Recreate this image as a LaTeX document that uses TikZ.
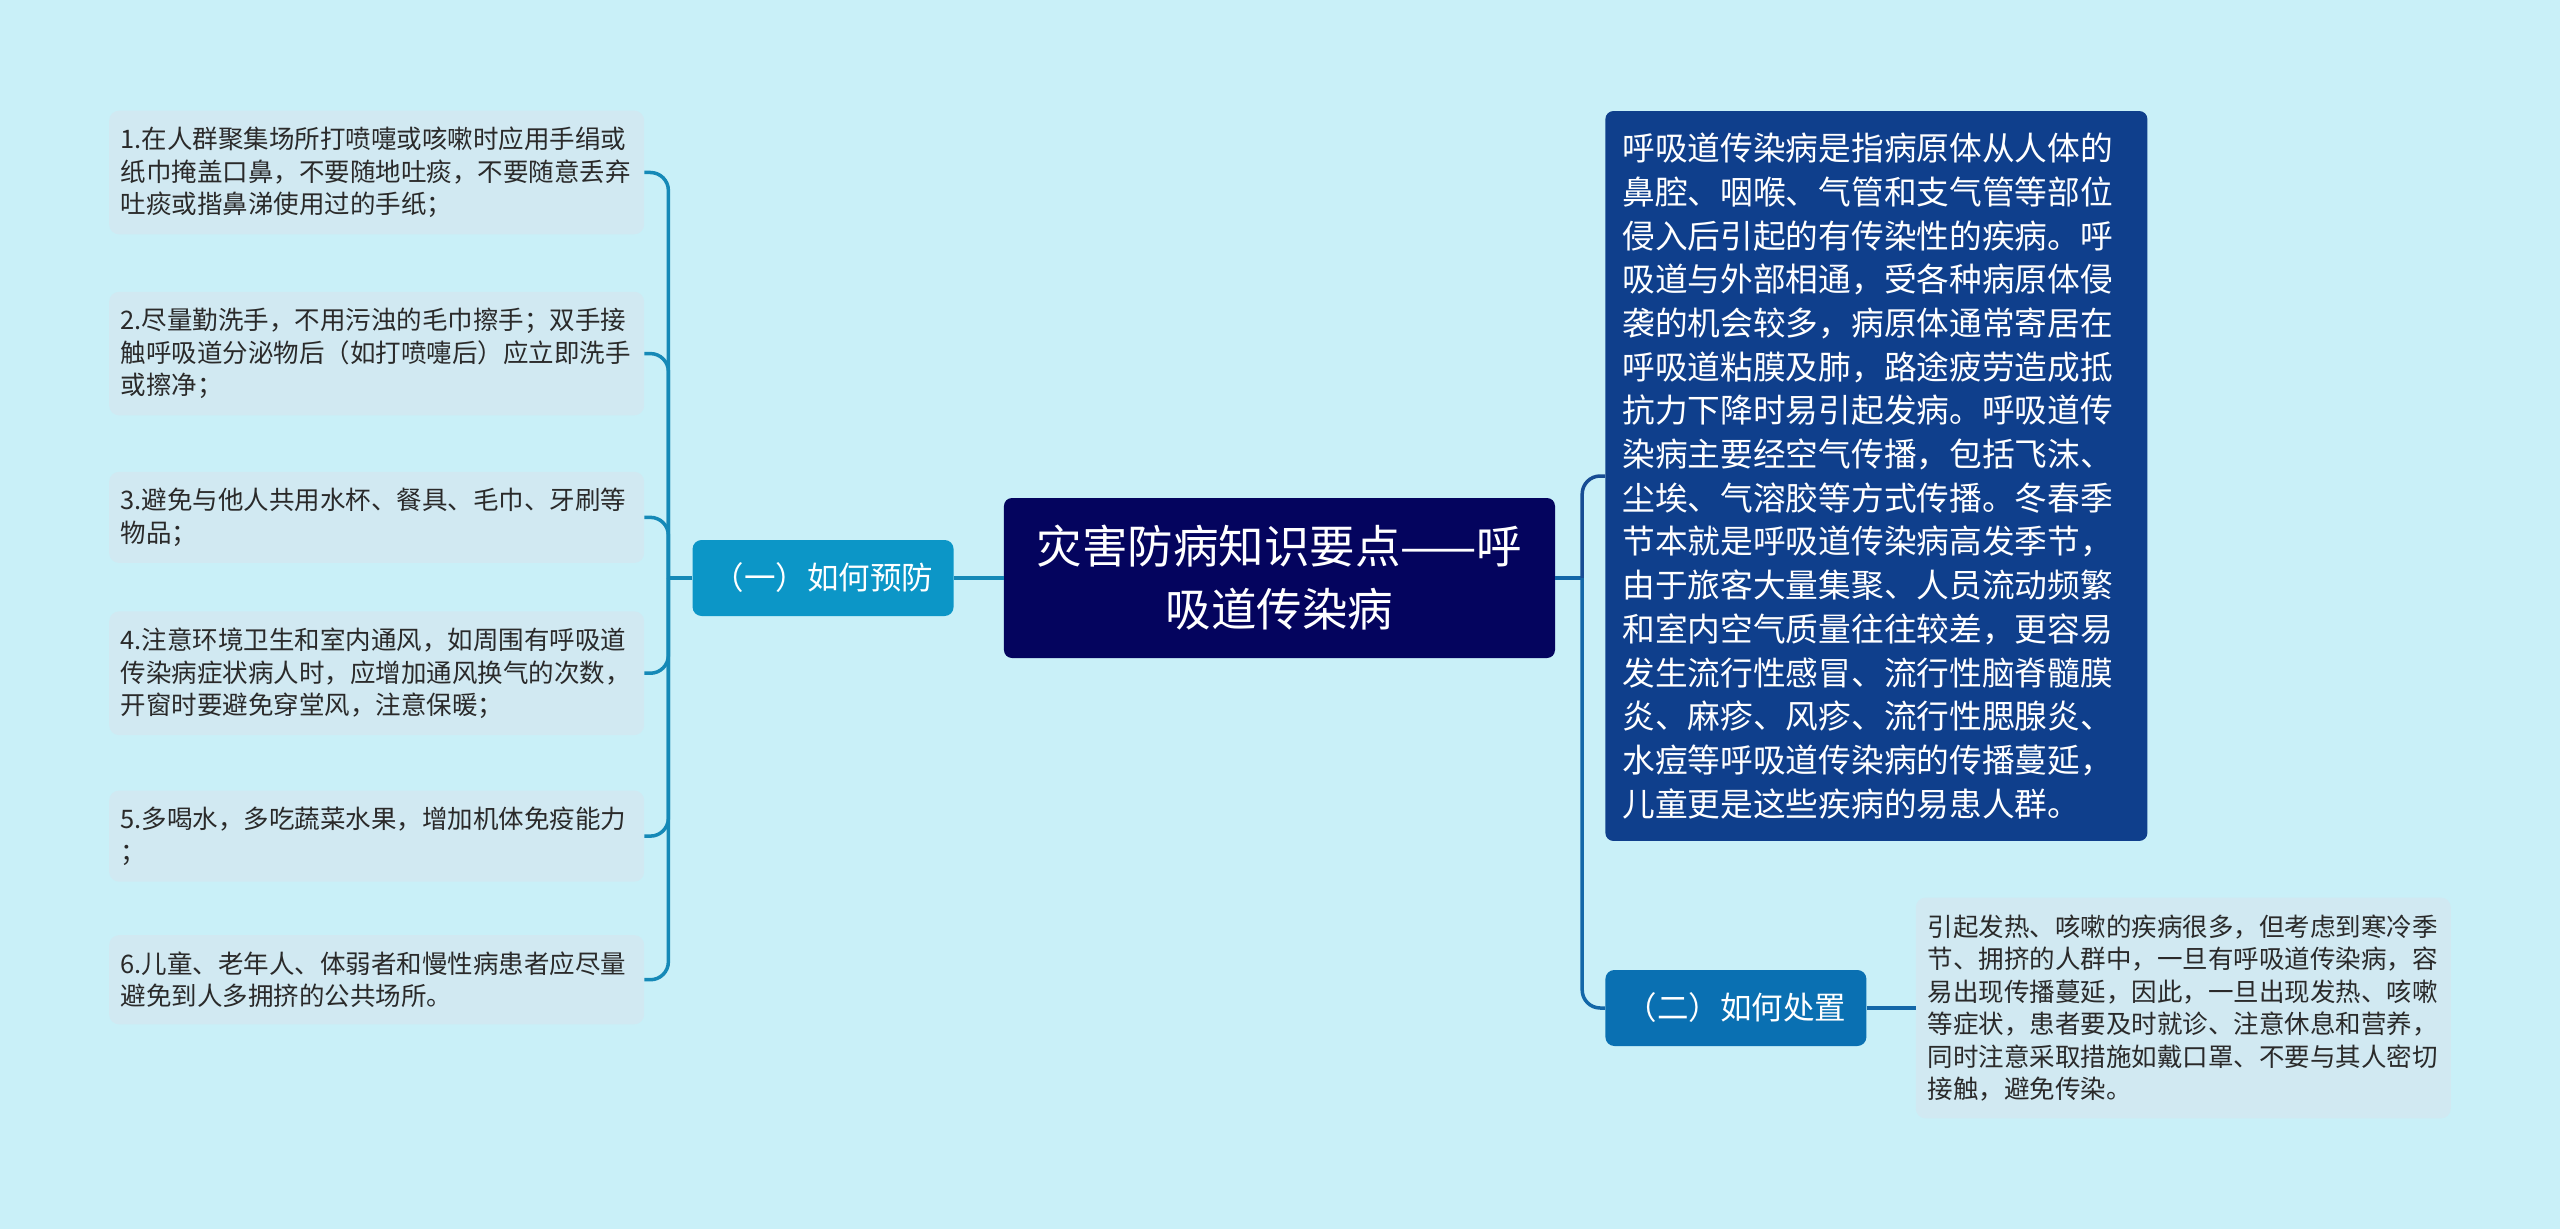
\documentclass[tikz,border=0pt]{standalone}
\usepackage{fontspec}
\setmainfont{Noto Sans CJK SC}
\usepackage{tikz}
\usetikzlibrary{positioning, calc}
\definecolor{bgcyan}{HTML}{C9F0F8}
\definecolor{leafblue}{HTML}{D1E9F2}
\definecolor{preblue}{HTML}{0C96C7}
\definecolor{prelink}{HTML}{1589B7}
\definecolor{mainnavy}{HTML}{04045E}
\definecolor{infoblue}{HTML}{0F3F8C}
\definecolor{infolink}{HTML}{174C94}
\definecolor{howblue}{HTML}{0A70B2}
\definecolor{howlink}{HTML}{1367A8}
\definecolor{leaftext}{HTML}{2A2A2A}
\tikzset{
	every node/.style={
		align=center,
	},
	main topic/.style={fill=mainnavy, text=white, rounded corners=8pt, minimum width=551pt, minimum height=160pt, inner sep=0pt, font=\fontsize{45.5pt}{63pt}\selectfont},
	sub topic/.style={text=white, rounded corners=9pt, minimum width=261pt, minimum height=76pt, inner sep=0pt, font=\fontsize{31.5pt}{38pt}\selectfont},
	leafbox/.style={fill=leafblue, text=leaftext, rounded corners=10pt, align=left, text width=512pt, inner xsep=11.5pt, inner ysep=16.5pt, font=\fontsize{25.5pt}{32.5pt}\selectfont},
	infobox/.style={fill=infoblue, text=white, rounded corners=8pt, align=left, text width=508pt, inner xsep=17pt, inner ysep=22pt, font=\fontsize{32.7pt}{43.7pt}\selectfont},
	branch/.style={line width=3.5pt, rounded corners=18pt},
}

\begin{document}
\begin{tikzpicture}
    \fill[bgcyan] (-1279.5pt,578pt) rectangle (1280.5pt,-651pt);
    \useasboundingbox (-1279.5pt,578pt) rectangle (1280.5pt,-651pt);

    \node[main topic] (main) at (0,0) {灾害防病知识要点——呼\\吸道传染病};
    \node[sub topic, fill=preblue, left=50pt of main] (pre) {（一）如何预防};

    \node[leafbox, left=48pt of pre, yshift=405.5pt] (l1) {1.在人群聚集场所打喷嚏或咳嗽时应用手绢或\\纸巾掩盖口鼻，不要随地吐痰，不要随意丢弃\\吐痰或揩鼻涕使用过的手纸；};
    \node[leafbox, below=57pt of l1] (l2) {2.尽量勤洗手，不用污浊的毛巾擦手；双手接\\触呼吸道分泌物后（如打喷嚏后）应立即洗手\\或擦净；};
    \node[leafbox, below=56pt of l2] (l3) {3.避免与他人共用水杯、餐具、毛巾、牙刷等\\物品；};
    \node[leafbox, below=48pt of l3] (l4) {4.注意环境卫生和室内通风，如周围有呼吸道\\传染病症状病人时，应增加通风换气的次数，\\开窗时要避免穿堂风，注意保暖；};
    \node[leafbox, below=55pt of l4] (l5) {5.多喝水，多吃蔬菜水果，增加机体免疫能力\\；};
    \node[leafbox, below=53pt of l5] (l6) {6.儿童、老年人、体弱者和慢性病患者应尽量\\避免到人多拥挤的公共场所。};

    \node[infobox, right=50pt of main, yshift=102pt] (info) {呼吸道传染病是指病原体从人体的\\鼻腔、咽喉、气管和支气管等部位\\侵入后引起的有传染性的疾病。呼\\吸道与外部相通，受各种病原体侵\\袭的机会较多，病原体通常寄居在\\呼吸道粘膜及肺，路途疲劳造成抵\\抗力下降时易引起发病。呼吸道传\\染病主要经空气传播，包括飞沫、\\尘埃、气溶胶等方式传播。冬春季\\节本就是呼吸道传染病高发季节，\\由于旅客大量集聚、人员流动频繁\\和室内空气质量往往较差，更容易\\发生流行性感冒、流行性脑脊髓膜\\炎、麻疹、风疹、流行性腮腺炎、\\水痘等呼吸道传染病的传播蔓延，\\儿童更是这些疾病的易患人群。};
    \node[sub topic, fill=howblue, right=50pt of main, yshift=-430pt] (how) {（二）如何处置};
    \node[leafbox, text width=511pt, inner xsep=12pt, inner ysep=17pt, right=49pt of how] (l7) {引起发热、咳嗽的疾病很多，但考虑到寒冷季\\节、拥挤的人群中，一旦有呼吸道传染病，容\\易出现传播蔓延，因此，一旦出现发热、咳嗽\\等症状，患者要及时就诊、注意休息和营养，\\同时注意采取措施如戴口罩、不要与其人密切\\接触，避免传染。};

    \coordinate[left=24pt of pre] (lfork);
    \coordinate[right=27pt of main] (rfork);

    \draw[branch, prelink] (main.west) -- (pre.east);
    \draw[branch, prelink] (pre.west) -- (lfork);
    \draw[branch, prelink] (lfork) |- (l1.east);
    \draw[branch, prelink] (lfork) |- (l2.east);
    \draw[branch, prelink] (lfork) |- (l3.east);
    \draw[branch, prelink] (lfork) |- (l4.east);
    \draw[branch, prelink] (lfork) |- (l5.east);
    \draw[branch, prelink] (lfork) |- (l6.east);

    \draw[branch, howlink] (main.east) -- (rfork);
    \draw[branch, infolink] (rfork) |- (info.west);
    \draw[branch, howlink] (rfork) |- (how.west);
    \draw[branch, howlink] (how.east) -- (l7.west);
\end{tikzpicture}
\end{document}
